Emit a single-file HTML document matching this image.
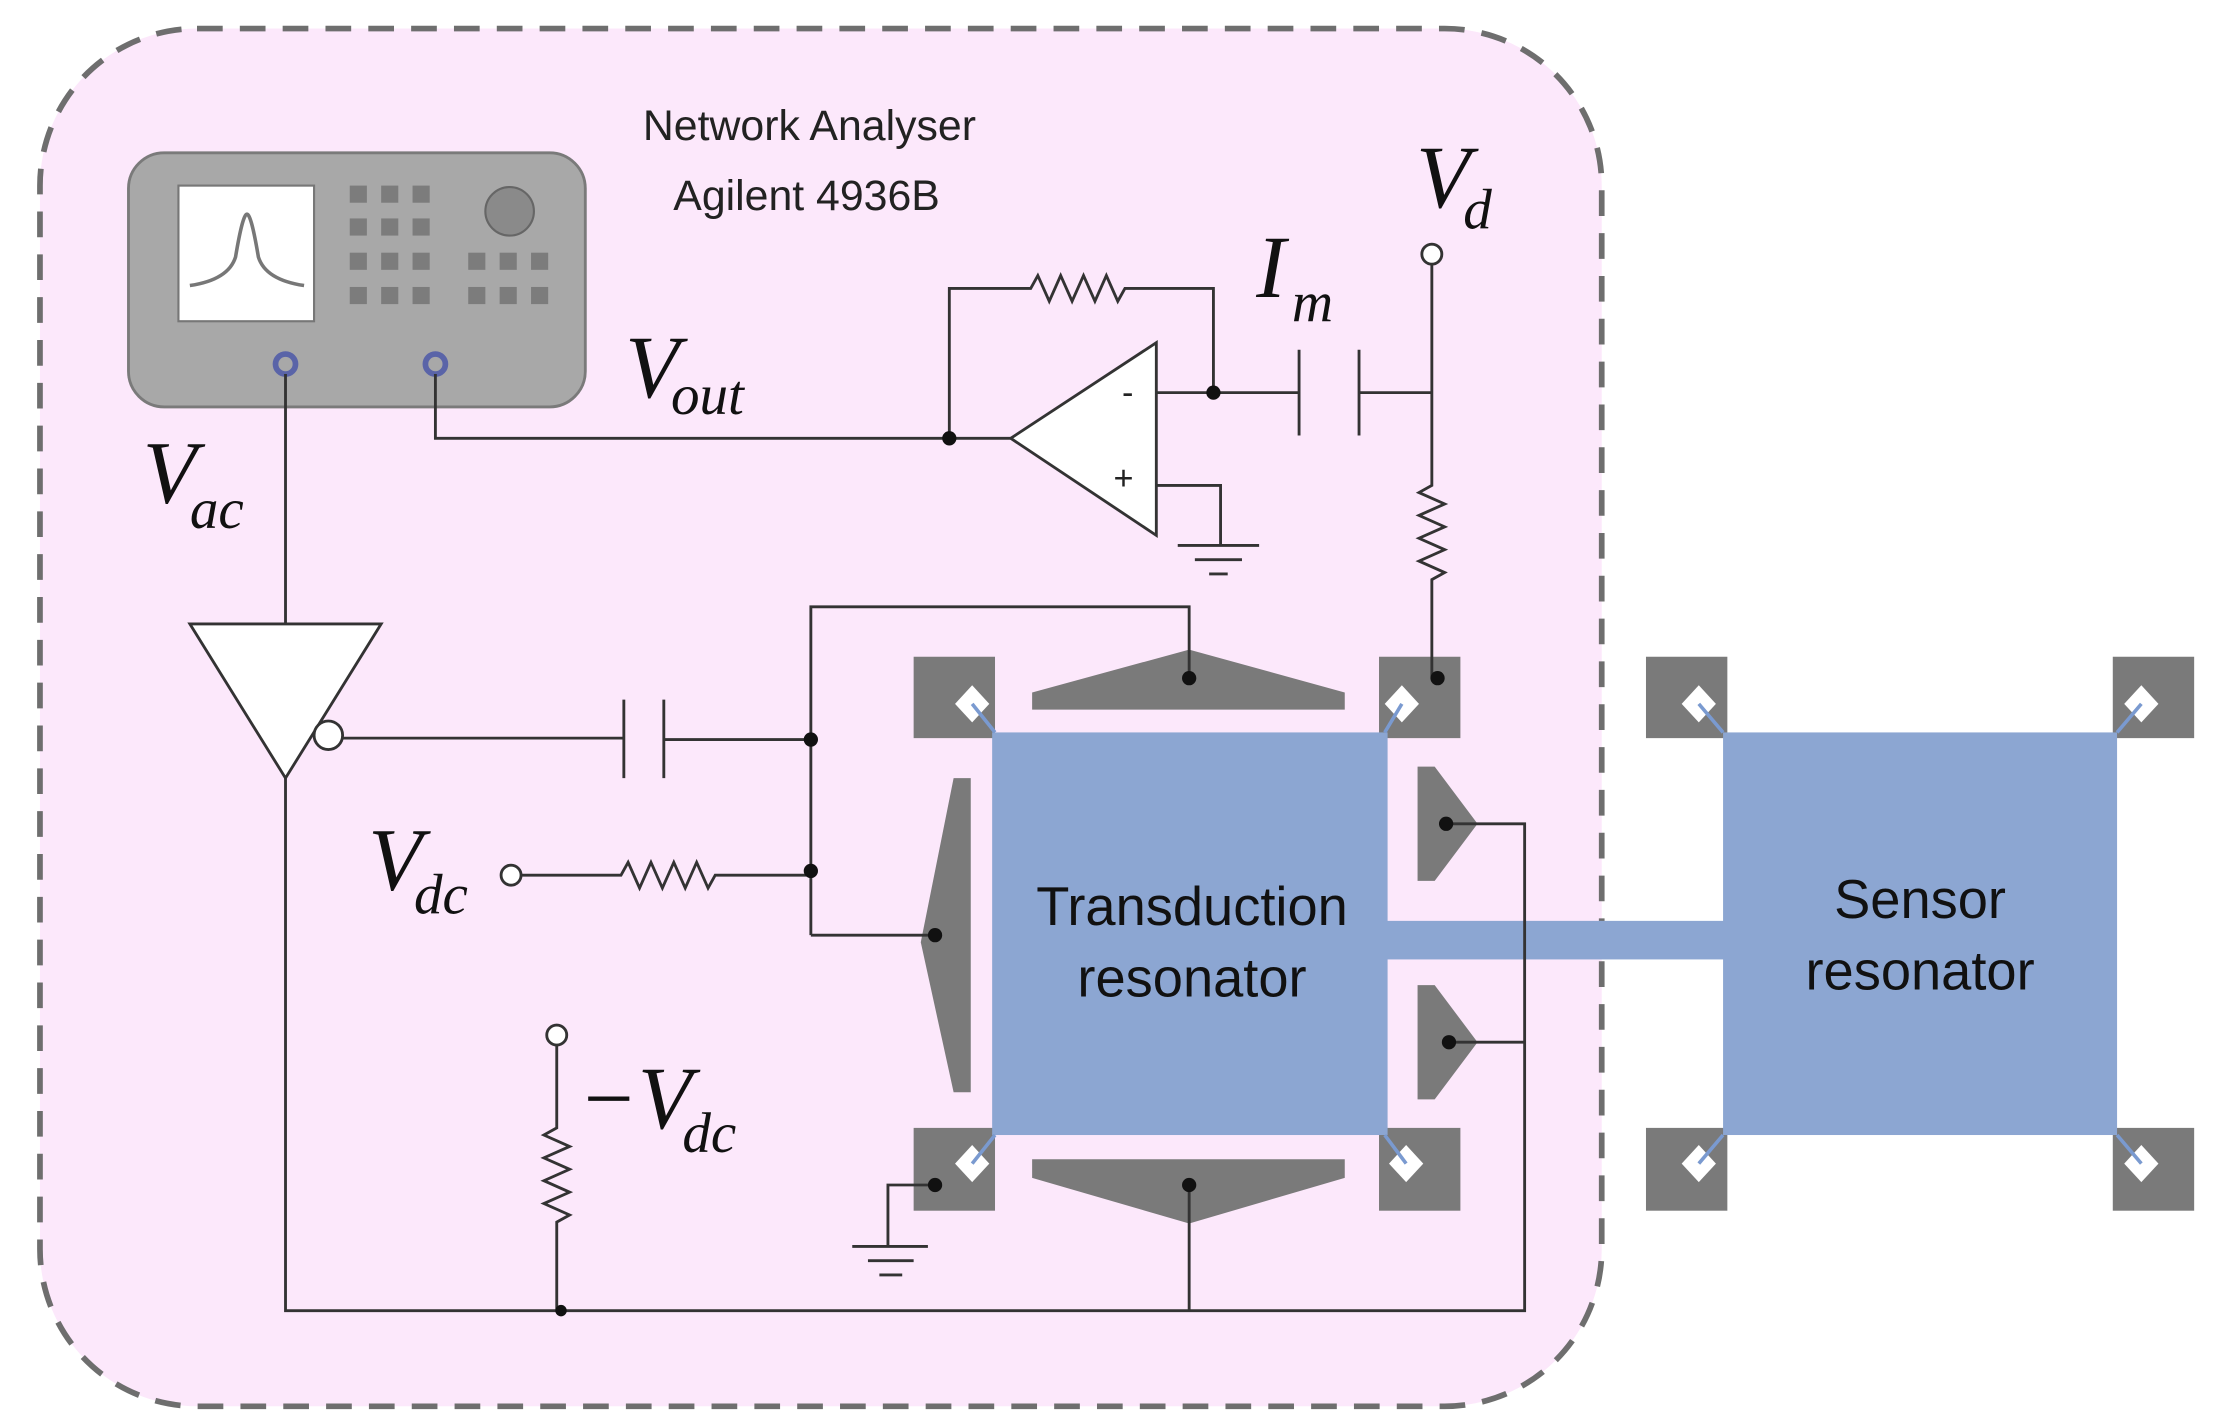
<!DOCTYPE html>
<html><head><style>html,body{margin:0;padding:0;background:#fff}svg{display:block}</style></head>
<body>
<svg width="2217" height="1422" viewBox="0 0 1553 996" preserveAspectRatio="none" xmlns="http://www.w3.org/2000/svg">
<rect x="28" y="20" width="1094" height="965" rx="110" fill="#fce8fb" stroke="#6e6e6e" stroke-width="4" stroke-dasharray="18,12"/>
<!-- instrument -->
<rect x="90" y="107" width="320" height="178" rx="25" fill="#a8a8a8" stroke="#7a7a7a" stroke-width="2"/>
<rect x="125" y="130" width="95" height="95" fill="#fff" stroke="#777" stroke-width="1.5"/>
<path d="M133 200 Q160 196 165 180 Q170 150 173 150 Q176 150 181 180 Q186 196 213 200" fill="none" stroke="#777" stroke-width="2.5"/>
<g fill="#7c7c7c">
<rect x="245" y="130" width="12" height="12"/><rect x="267" y="130" width="12" height="12"/><rect x="289" y="130" width="12" height="12"/>
<rect x="245" y="153" width="12" height="12"/><rect x="267" y="153" width="12" height="12"/><rect x="289" y="153" width="12" height="12"/>
<rect x="245" y="177" width="12" height="12"/><rect x="267" y="177" width="12" height="12"/><rect x="289" y="177" width="12" height="12"/>
<rect x="245" y="201" width="12" height="12"/><rect x="267" y="201" width="12" height="12"/><rect x="289" y="201" width="12" height="12"/>
<rect x="328" y="177" width="12" height="12"/><rect x="350" y="177" width="12" height="12"/><rect x="372" y="177" width="12" height="12"/>
<rect x="328" y="201" width="12" height="12"/><rect x="350" y="201" width="12" height="12"/><rect x="372" y="201" width="12" height="12"/>
</g>
<circle cx="357" cy="148" r="17" fill="#8a8a8a" stroke="#666" stroke-width="1.5"/>
<circle cx="200" cy="255" r="7" fill="none" stroke="#5a64a8" stroke-width="4"/>
<circle cx="305" cy="255" r="7" fill="none" stroke="#5a64a8" stroke-width="4"/>
<g font-family="Liberation Sans, sans-serif" font-size="30" fill="#222" text-anchor="middle">
<text x="567" y="98">Network Analyser</text><text x="565" y="147">Agilent 4936B</text>
</g>
<!-- resonators -->
<g fill="#7a7a7a">
<rect x="640" y="460" width="57" height="57"/><rect x="966" y="460" width="57" height="57"/>
<rect x="640" y="790" width="57" height="58"/><rect x="966" y="790" width="57" height="58"/>
<rect x="1153" y="460" width="57" height="57"/><rect x="1480" y="460" width="57" height="57"/>
<rect x="1153" y="790" width="57" height="58"/><rect x="1480" y="790" width="57" height="58"/>
<polygon points="723,497 942,497 942,485 833,455 723,485"/>
<polygon points="723,812 942,812 942,825 833,857 723,825"/>
<polygon points="680,545 680,765 668,765 645,660 668,545"/>
<polygon points="993,537 993,617 1005,617 1035,577 1005,537"/>
<polygon points="993,690 993,770 1005,770 1035,730 1005,690"/>
</g>
<g fill="#fff">
<polygon points="681,480 693,493 681,506 669,493"/><polygon points="982,480 994,493 982,506 970,493"/>
<polygon points="681,802 693,815 681,828 669,815"/><polygon points="985,802 997,815 985,828 973,815"/>
<polygon points="1190,480 1202,493 1190,506 1178,493"/><polygon points="1500,480 1512,493 1500,506 1488,493"/>
<polygon points="1190,802 1202,815 1190,828 1178,815"/><polygon points="1500,802 1512,815 1500,828 1488,815"/>
</g>
<rect x="695" y="513" width="277" height="282" fill="#8ca6d2"/>
<rect x="970" y="645" width="240" height="27" fill="#8ca6d2"/>
<rect x="1207" y="513" width="276" height="282" fill="#8ca6d2"/>
<g stroke="#7a9ad0" stroke-width="2.5">
<line x1="681" y1="493" x2="697" y2="513"/><line x1="982" y1="493" x2="970" y2="513"/>
<line x1="681" y1="815" x2="697" y2="795"/><line x1="985" y1="815" x2="970" y2="795"/>
<line x1="1190" y1="493" x2="1207" y2="513"/><line x1="1500" y1="493" x2="1483" y2="513"/>
<line x1="1190" y1="815" x2="1207" y2="795"/><line x1="1500" y1="815" x2="1483" y2="795"/>
</g>
<g font-family="Liberation Sans, sans-serif" font-size="38" fill="#111" text-anchor="middle">
<text x="835" y="648">Transduction</text><text x="835" y="698">resonator</text>
<text x="1345" y="643">Sensor</text><text x="1345" y="693">resonator</text>
</g>
<!-- wires -->
<g fill="none" stroke="#333" stroke-width="2">
<path d="M200 262 V437"/>
<path d="M305 262 V307 H708"/>
<path d="M665 307 V202 H722 l5 -9 l8 18 l8 -18 l8 18 l8 -18 l8 18 l8 -18 l8 18 l5 -9 H850 V275"/>
<path d="M810 275 H910 M910 245 V305 M952 245 V305 M952 275 H1003"/>
<path d="M1003 185 V340 l-9 5 l18 8 l-18 8 l18 8 l-18 8 l18 8 l-18 8 l18 8 l-9 5 V475"/>
<path d="M810 340 H855 V382 M825 382 H882 M837 392 H870 M847 402 H860"/>
<path d="M240 517 H437 M437 490 V545 M465 490 V545 M465 518 H568"/>
<path d="M568 655 V425 H833 V475 M568 655 H655"/>
<path d="M365 613 H435 l5 -9 l8 18 l8 -18 l8 18 l8 -18 l8 18 l8 -18 l8 18 l5 -9 H568"/>
<path d="M200 545 V918 H1068 V577 H1013 M1068 730 H1015"/>
<path d="M390 732 V790 l-9 5 l18 8 l-18 8 l18 8 l-18 8 l18 8 l-18 8 l18 8 l-9 5 V918"/>
<path d="M833 830 V918"/>
<path d="M655 830 H622 V873 M597 873 H650 M608 883 H640 M616 893 H632"/>
</g>
<polygon points="133,437 267,437 200,545" fill="#fff" stroke="#333" stroke-width="2"/>
<circle cx="230" cy="515" r="10" fill="#fff" stroke="#333" stroke-width="2"/>
<polygon points="708,307 810,240 810,375" fill="#fff" stroke="#333" stroke-width="2"/>
<text x="786" y="283" font-family="Liberation Sans, sans-serif" font-size="24" fill="#222">-</text>
<text x="780" y="343" font-family="Liberation Sans, sans-serif" font-size="24" fill="#222">+</text>
<g fill="#fff" stroke="#333" stroke-width="2">
<circle cx="1003" cy="178" r="7"/><circle cx="358" cy="613" r="7"/><circle cx="390" cy="725" r="7"/>
</g>
<g fill="#111">
<circle cx="665" cy="307" r="5"/><circle cx="850" cy="275" r="5"/><circle cx="568" cy="518" r="5"/><circle cx="568" cy="610" r="5"/>
<circle cx="393" cy="918" r="4"/><circle cx="833" cy="475" r="5"/><circle cx="1007" cy="475" r="5"/><circle cx="655" cy="655" r="5"/>
<circle cx="1013" cy="577" r="5"/><circle cx="1015" cy="730" r="5"/><circle cx="833" cy="830" r="5"/><circle cx="655" cy="830" r="5"/>
</g>
<!-- labels -->
<g font-family="Liberation Serif, serif" font-style="italic" fill="#111">
<text x="438" y="278" font-size="62">V</text><text x="470" y="290" font-size="40">out</text>
<text x="100" y="352" font-size="62">V</text><text x="133" y="370" font-size="40">ac</text>
<text x="992" y="145" font-size="62">V</text><text x="1025" y="160" font-size="40">d</text>
<text x="880" y="208" font-size="62">I</text><text x="905" y="225" font-size="40">m</text>
<text x="258" y="623" font-size="62">V</text><text x="290" y="640" font-size="40">dc</text>
<text x="405" y="790" font-size="62">−V</text><text x="478" y="807" font-size="40">dc</text>
</g>
</svg>
</body></html>
